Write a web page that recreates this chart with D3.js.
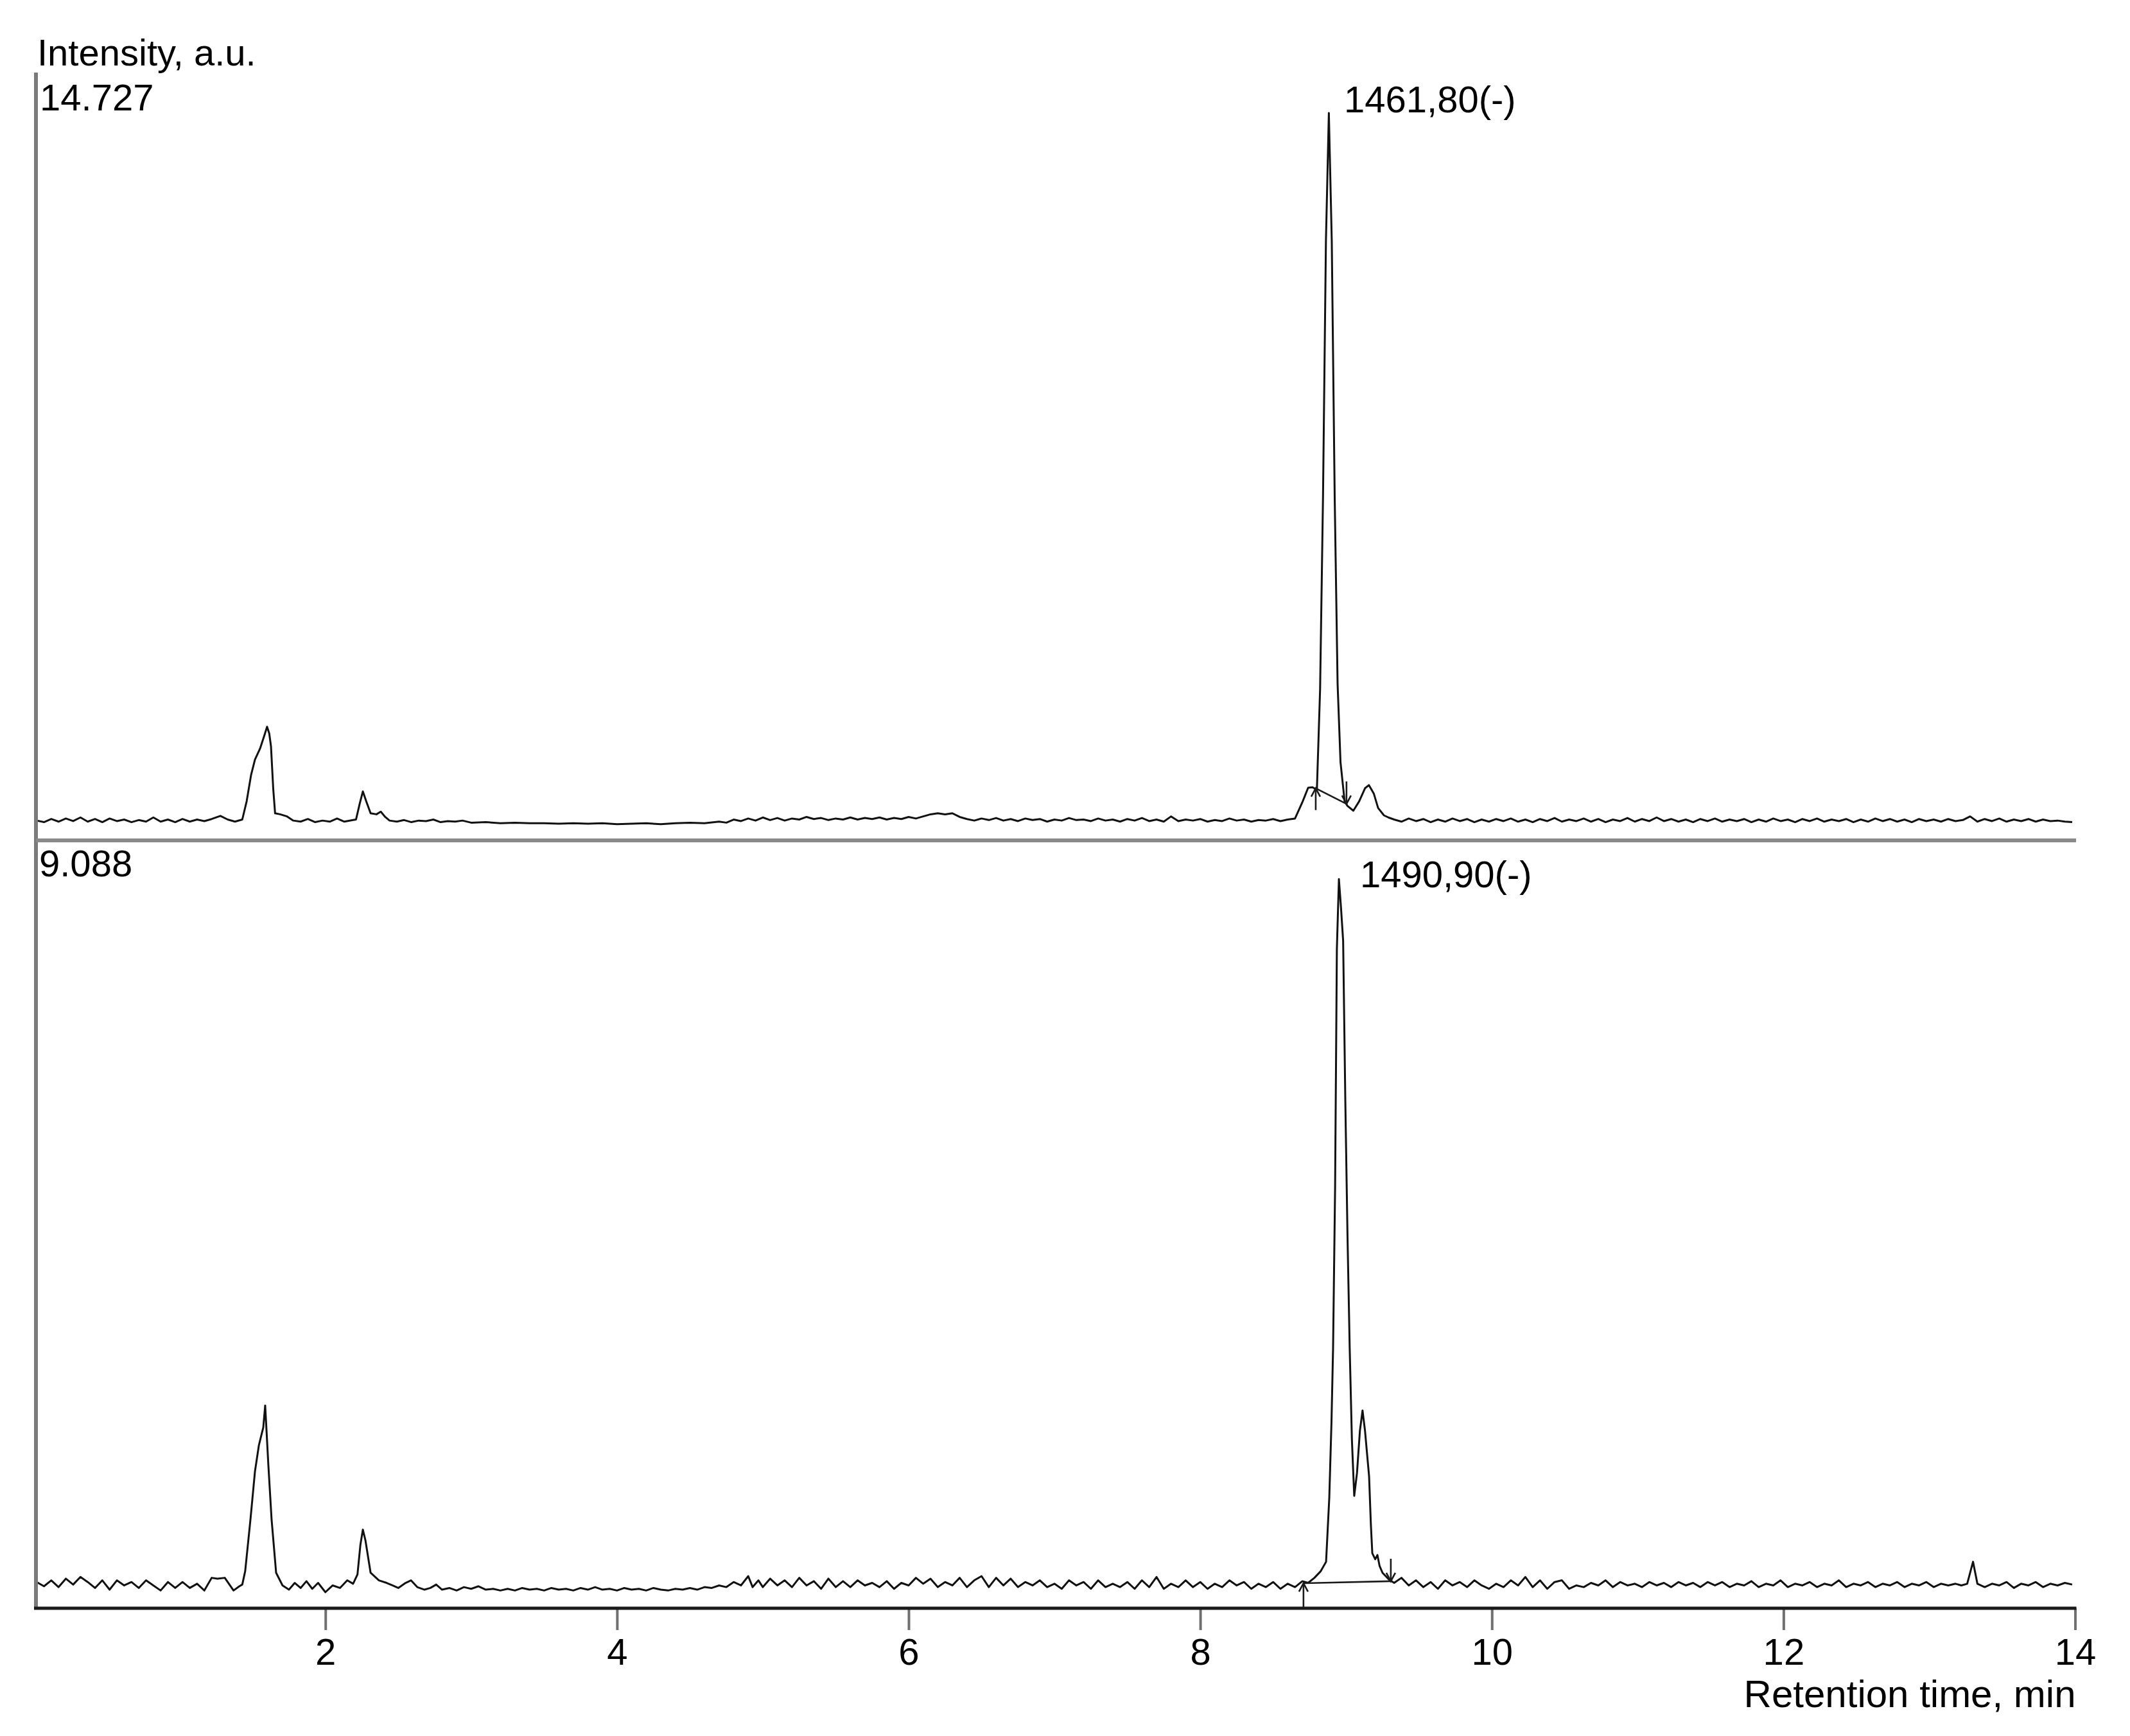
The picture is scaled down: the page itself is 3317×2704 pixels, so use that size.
<!DOCTYPE html>
<html>
<head>
<meta charset="utf-8">
<script src="https://cdn.jsdelivr.net/npm/d3@7"></script>
<style>
  html, body { margin: 0; padding: 0; background: #ffffff; }
  svg { display: block; }
  text { font-family: "Liberation Sans", Arial, Helvetica, sans-serif; fill: #000; }
</style>
</head>
<body>
<svg id="chart" width="3317" height="2704"></svg>
<script>
// ---------------- DATA ----------------
const xTickValues = [2, 4, 6, 8, 10, 12, 14];
const xDomain = [0, 14];
const xStart = 0.015;

const yLabel = "Intensity, a.u.";
const xLabel = "Retention time, min";

const topScaleMax = 14.727;
const bottomScaleMax = 9.088;
const topScaleLabel = "14.727";
const bottomScaleLabel = "9.088";

const topPeakLabel = { text: "1461,80(-)", t: 8.986, v: 13.96 };
const bottomPeakLabel = { text: "1490,90(-)", t: 9.096, v: 8.53 };

// integration baseline start / end markers [t, v]
const topIntegration = { start: [8.792, 1.00], end: [9.003, 0.70] };
const bottomIntegration = { start: [8.708, 0.296], end: [9.307, 0.32] };

// upper chromatogram [time, intensity]
const topTrace = [
  [0.02,0.38],[0.07,0.35],[0.12,0.41],[0.17,0.36],[0.22,0.42],[0.27,0.37],[0.32,0.44],[0.37,0.36],
  [0.42,0.41],[0.47,0.35],[0.52,0.42],[0.57,0.37],[0.62,0.40],[0.67,0.35],[0.72,0.39],[0.77,0.36],
  [0.82,0.44],[0.87,0.36],[0.92,0.40],[0.97,0.35],[1.02,0.41],[1.07,0.36],[1.12,0.40],[1.17,0.37],
  [1.22,0.41],[1.28,0.47],[1.33,0.40],[1.38,0.36],[1.43,0.40],[1.46,0.75],[1.49,1.25],[1.517,1.55],
  [1.553,1.77],[1.58,2.00],[1.60,2.18],[1.615,2.05],[1.627,1.80],[1.642,1.00],[1.655,0.52],[1.69,0.50],
  [1.737,0.46],[1.78,0.38],[1.83,0.36],[1.88,0.41],[1.93,0.35],[1.98,0.38],[2.03,0.36],[2.08,0.42],
  [2.13,0.36],[2.19,0.39],[2.21,0.40],[2.235,0.70],[2.257,0.94],[2.28,0.75],[2.31,0.52],[2.35,0.50],
  [2.38,0.55],[2.41,0.45],[2.44,0.38],[2.49,0.36],[2.54,0.39],[2.59,0.35],[2.64,0.38],[2.69,0.37],
  [2.74,0.40],[2.79,0.35],[2.84,0.37],[2.89,0.36],[2.94,0.38],[3.00,0.34],[3.10,0.35],[3.20,0.33],
  [3.30,0.34],[3.40,0.33],[3.50,0.33],[3.60,0.32],[3.70,0.33],[3.80,0.32],[3.90,0.33],[4.00,0.31],
  [4.10,0.32],[4.20,0.33],[4.30,0.31],[4.40,0.33],[4.50,0.34],[4.60,0.33],[4.70,0.36],[4.75,0.34],
  [4.80,0.40],[4.85,0.37],[4.90,0.42],[4.95,0.38],[5.00,0.44],[5.05,0.39],[5.10,0.43],[5.15,0.38],
  [5.20,0.42],[5.25,0.40],[5.30,0.45],[5.35,0.41],[5.40,0.43],[5.45,0.39],[5.50,0.42],[5.55,0.40],
  [5.60,0.44],[5.65,0.40],[5.70,0.43],[5.75,0.41],[5.80,0.44],[5.85,0.40],[5.90,0.43],[5.95,0.41],
  [6.00,0.45],[6.05,0.42],[6.10,0.46],[6.15,0.50],[6.20,0.52],[6.25,0.50],[6.30,0.52],[6.35,0.45],
  [6.40,0.41],[6.45,0.38],[6.50,0.42],[6.55,0.39],[6.60,0.43],[6.65,0.38],[6.70,0.41],[6.75,0.37],
  [6.80,0.42],[6.85,0.39],[6.90,0.41],[6.95,0.36],[7.00,0.40],[7.05,0.38],[7.10,0.43],[7.15,0.39],
  [7.20,0.40],[7.25,0.37],[7.30,0.42],[7.35,0.38],[7.40,0.40],[7.45,0.36],[7.50,0.41],[7.55,0.38],
  [7.60,0.43],[7.65,0.37],[7.70,0.40],[7.75,0.36],[7.80,0.46],[7.85,0.37],[7.90,0.40],[7.95,0.38],
  [8.00,0.41],[8.05,0.36],[8.10,0.39],[8.15,0.37],[8.20,0.42],[8.25,0.38],[8.30,0.40],[8.35,0.36],
  [8.40,0.39],[8.45,0.38],[8.50,0.41],[8.55,0.37],[8.60,0.40],[8.65,0.42],[8.70,0.73],[8.74,1.01],
  [8.77,1.02],[8.80,0.97],[8.822,2.90],[8.842,6.60],[8.862,11.50],[8.882,13.95],[8.902,11.50],[8.922,6.60],
  [8.942,3.00],[8.962,1.50],[8.99,0.75],[9.01,0.66],[9.05,0.57],[9.09,0.75],[9.13,1.00],[9.157,1.06],
  [9.19,0.90],[9.22,0.62],[9.26,0.48],[9.29,0.44],[9.33,0.40],[9.38,0.36],[9.43,0.42],[9.48,0.37],
  [9.53,0.41],[9.58,0.35],[9.63,0.40],[9.68,0.36],[9.73,0.42],[9.78,0.37],[9.83,0.41],[9.88,0.35],
  [9.93,0.40],[9.98,0.36],[10.03,0.41],[10.08,0.37],[10.13,0.42],[10.18,0.36],[10.23,0.40],[10.28,0.35],
  [10.33,0.41],[10.38,0.37],[10.43,0.43],[10.48,0.36],[10.53,0.40],[10.58,0.37],[10.63,0.42],[10.68,0.36],
  [10.73,0.41],[10.78,0.35],[10.83,0.40],[10.88,0.37],[10.93,0.43],[10.98,0.36],[11.03,0.41],[11.08,0.37],
  [11.13,0.44],[11.18,0.37],[11.23,0.41],[11.28,0.36],[11.33,0.40],[11.38,0.35],[11.43,0.41],[11.48,0.37],
  [11.53,0.42],[11.58,0.36],[11.63,0.40],[11.68,0.37],[11.73,0.41],[11.78,0.35],[11.83,0.40],[11.88,0.36],
  [11.93,0.42],[11.98,0.37],[12.03,0.40],[12.08,0.35],[12.13,0.41],[12.18,0.37],[12.23,0.42],[12.28,0.36],
  [12.33,0.40],[12.38,0.37],[12.43,0.41],[12.48,0.35],[12.53,0.40],[12.58,0.36],[12.63,0.42],[12.68,0.37],
  [12.73,0.41],[12.78,0.36],[12.83,0.40],[12.88,0.35],[12.93,0.41],[12.98,0.37],[13.03,0.40],[13.08,0.36],
  [13.13,0.41],[13.18,0.37],[13.23,0.39],[13.28,0.46],[13.33,0.36],[13.38,0.41],[13.43,0.37],[13.48,0.42],
  [13.53,0.36],[13.58,0.40],[13.63,0.37],[13.68,0.41],[13.73,0.36],[13.78,0.40],[13.83,0.37],[13.88,0.38],
  [13.93,0.36],[13.98,0.35]
];

// lower chromatogram [time, intensity]
const bottomTrace = [
  [0.02,0.31],[0.07,0.26],[0.12,0.33],[0.17,0.25],[0.22,0.35],[0.27,0.28],[0.32,0.37],[0.37,0.31],
  [0.42,0.24],[0.47,0.33],[0.52,0.22],[0.57,0.33],[0.62,0.27],[0.67,0.31],[0.72,0.24],[0.77,0.33],
  [0.82,0.27],[0.87,0.21],[0.92,0.31],[0.97,0.24],[1.02,0.31],[1.07,0.24],[1.12,0.29],[1.17,0.21],
  [1.22,0.36],[1.26,0.35],[1.31,0.36],[1.37,0.21],[1.41,0.26],[1.43,0.28],[1.45,0.44],[1.486,1.05],
  [1.517,1.62],[1.544,1.93],[1.574,2.14],[1.587,2.40],[1.609,1.69],[1.631,1.05],[1.662,0.42],[1.706,0.27],
  [1.75,0.22],[1.79,0.30],[1.83,0.24],[1.87,0.32],[1.91,0.23],[1.95,0.30],[2.00,0.19],[2.05,0.27],
  [2.10,0.24],[2.15,0.33],[2.19,0.29],[2.22,0.40],[2.24,0.75],[2.257,0.93],[2.275,0.80],[2.31,0.42],
  [2.367,0.33],[2.42,0.30],[2.46,0.27],[2.50,0.24],[2.55,0.30],[2.587,0.33],[2.63,0.25],[2.68,0.22],
  [2.72,0.24],[2.76,0.28],[2.80,0.22],[2.85,0.24],[2.90,0.21],[2.95,0.25],[3.00,0.23],[3.05,0.26],
  [3.10,0.22],[3.15,0.23],[3.20,0.21],[3.25,0.23],[3.30,0.21],[3.35,0.24],[3.40,0.22],[3.45,0.23],
  [3.50,0.21],[3.55,0.24],[3.60,0.22],[3.65,0.23],[3.70,0.21],[3.75,0.24],[3.80,0.22],[3.85,0.25],
  [3.90,0.22],[3.95,0.23],[4.00,0.21],[4.05,0.24],[4.10,0.22],[4.15,0.23],[4.20,0.21],[4.25,0.24],
  [4.30,0.22],[4.35,0.21],[4.40,0.23],[4.45,0.22],[4.50,0.24],[4.55,0.22],[4.60,0.25],[4.65,0.24],
  [4.70,0.27],[4.75,0.25],[4.80,0.31],[4.85,0.27],[4.90,0.38],[4.93,0.25],[4.97,0.33],[5.00,0.25],
  [5.05,0.35],[5.10,0.27],[5.15,0.33],[5.20,0.25],[5.25,0.36],[5.30,0.27],[5.35,0.32],[5.40,0.23],
  [5.45,0.35],[5.50,0.25],[5.55,0.32],[5.60,0.25],[5.65,0.33],[5.70,0.27],[5.75,0.30],[5.80,0.25],
  [5.85,0.32],[5.90,0.23],[5.95,0.30],[6.00,0.27],[6.05,0.36],[6.10,0.29],[6.15,0.35],[6.20,0.25],
  [6.25,0.31],[6.30,0.27],[6.35,0.36],[6.40,0.25],[6.45,0.33],[6.50,0.38],[6.55,0.25],[6.60,0.36],
  [6.65,0.27],[6.70,0.35],[6.75,0.25],[6.80,0.31],[6.85,0.27],[6.90,0.33],[6.95,0.25],[7.00,0.29],
  [7.05,0.23],[7.10,0.33],[7.15,0.27],[7.20,0.31],[7.25,0.23],[7.30,0.33],[7.35,0.25],[7.40,0.29],
  [7.45,0.25],[7.50,0.31],[7.55,0.23],[7.60,0.33],[7.65,0.25],[7.70,0.37],[7.75,0.23],[7.80,0.29],
  [7.85,0.25],[7.90,0.33],[7.95,0.25],[8.00,0.31],[8.05,0.23],[8.10,0.29],[8.15,0.25],[8.20,0.33],
  [8.25,0.27],[8.30,0.31],[8.35,0.23],[8.40,0.29],[8.45,0.25],[8.50,0.31],[8.55,0.23],[8.60,0.29],
  [8.65,0.25],[8.70,0.32],[8.74,0.30],[8.783,0.36],[8.827,0.44],[8.863,0.55],[8.885,1.31],[8.90,2.20],
  [8.911,3.08],[8.925,5.00],[8.937,7.80],[8.951,8.63],[8.965,8.30],[8.98,7.90],[8.995,6.00],[9.01,4.40],
  [9.025,3.08],[9.04,2.00],[9.056,1.33],[9.075,1.60],[9.095,2.10],[9.113,2.34],[9.13,2.10],[9.158,1.56],
  [9.17,1.00],[9.18,0.65],[9.20,0.58],[9.215,0.63],[9.23,0.50],[9.25,0.42],[9.294,0.34],[9.33,0.30],
  [9.38,0.36],[9.43,0.27],[9.48,0.33],[9.53,0.25],[9.58,0.31],[9.63,0.23],[9.68,0.33],[9.73,0.27],
  [9.78,0.31],[9.83,0.25],[9.88,0.33],[9.93,0.27],[9.98,0.23],[10.03,0.29],[10.08,0.25],[10.13,0.33],
  [10.18,0.27],[10.23,0.37],[10.28,0.25],[10.33,0.33],[10.38,0.23],[10.43,0.31],[10.48,0.33],[10.53,0.23],
  [10.58,0.27],[10.63,0.25],[10.68,0.30],[10.73,0.27],[10.78,0.33],[10.83,0.25],[10.88,0.31],[10.93,0.27],
  [10.98,0.29],[11.03,0.25],[11.08,0.31],[11.13,0.27],[11.18,0.30],[11.23,0.25],[11.28,0.31],[11.33,0.27],
  [11.38,0.30],[11.43,0.25],[11.48,0.31],[11.53,0.27],[11.58,0.31],[11.63,0.25],[11.68,0.29],[11.73,0.27],
  [11.78,0.32],[11.83,0.25],[11.88,0.29],[11.93,0.27],[11.98,0.33],[12.03,0.25],[12.08,0.29],[12.13,0.27],
  [12.18,0.31],[12.23,0.25],[12.28,0.29],[12.33,0.27],[12.38,0.33],[12.43,0.25],[12.48,0.29],[12.53,0.27],
  [12.58,0.31],[12.63,0.25],[12.68,0.29],[12.73,0.27],[12.78,0.31],[12.83,0.25],[12.88,0.29],[12.93,0.27],
  [12.98,0.31],[13.03,0.25],[13.08,0.29],[13.13,0.27],[13.18,0.29],[13.22,0.27],[13.26,0.29],[13.30,0.55],
  [13.33,0.29],[13.38,0.25],[13.43,0.29],[13.48,0.27],[13.53,0.31],[13.58,0.24],[13.63,0.29],[13.68,0.27],
  [13.73,0.31],[13.78,0.25],[13.83,0.29],[13.88,0.27],[13.93,0.30],[13.98,0.28]
];

// ---------------- LAYOUT ----------------
const FONT = 58;
const plotLeftPx = 52.6, plotRightPx = 3231.5;
const topPanel = { top: 113, bottom: 1309 };
const bottomPanel = { top: 1309, bottom: 2505 };

const svg = d3.select("#chart");
svg.append("rect").attr("width", 3317).attr("height", 2704).attr("fill", "#ffffff");

const x = d3.scaleLinear().domain(xDomain).range([plotLeftPx, plotRightPx]);
const yTop = d3.scaleLinear().domain([0, topScaleMax]).range([topPanel.bottom, topPanel.top]);
const yBot = d3.scaleLinear().domain([0, bottomScaleMax]).range([bottomPanel.bottom, bottomPanel.top]);

const x0 = x(xStart), x1 = x(xDomain[1]);

// traces
const lineTop = d3.line().x(d => x(d[0])).y(d => yTop(d[1]));
const lineBot = d3.line().x(d => x(d[0])).y(d => yBot(d[1]));

svg.append("path").datum(topTrace).attr("d", lineTop)
  .attr("fill", "none").attr("stroke", "#111").attr("stroke-width", 3).attr("stroke-linejoin", "round");
svg.append("path").datum(bottomTrace).attr("d", lineBot)
  .attr("fill", "none").attr("stroke", "#111").attr("stroke-width", 3).attr("stroke-linejoin", "round");

// integration baselines and markers
function drawIntegration(integ, yScale, upTail, downTail) {
  const sx = x(integ.start[0]), sy = yScale(integ.start[1]);
  const ex = x(integ.end[0]), ey = yScale(integ.end[1]);
  const g = svg.append("g").attr("stroke", "#1a1a1a").attr("stroke-width", 2.6).attr("fill", "none");
  g.append("line").attr("x1", sx).attr("y1", sy).attr("x2", ex).attr("y2", ey);
  // start marker: up arrow, tail below
  g.append("line").attr("x1", sx).attr("y1", sy).attr("x2", sx).attr("y2", sy + upTail);
  g.append("path").attr("d", `M${sx - 7},${sy + 13}L${sx},${sy}L${sx + 7},${sy + 13}`);
  // end marker: down arrow, tail above
  g.append("line").attr("x1", ex).attr("y1", ey).attr("x2", ex).attr("y2", ey - downTail);
  g.append("path").attr("d", `M${ex - 7},${ey - 13}L${ex},${ey}L${ex + 7},${ey - 13}`);
}
drawIntegration(topIntegration, yTop, 34, 35);
drawIntegration(bottomIntegration, yBot, bottomPanel.bottom - yBot(bottomIntegration.start[1]), 35);

// left axis
svg.append("line").attr("x1", x0).attr("x2", x0)
  .attr("y1", topPanel.top).attr("y2", bottomPanel.bottom)
  .attr("stroke", "#7a7a7a").attr("stroke-width", 6);

// separator between panels
svg.append("line").attr("x1", x0).attr("x2", x1 + 1.5)
  .attr("y1", topPanel.bottom).attr("y2", topPanel.bottom)
  .attr("stroke", "#8a8a8a").attr("stroke-width", 6);

// bottom axis
const xAxis = d3.axisBottom(x).tickValues(xTickValues).tickSize(34).tickPadding(13)
  .tickFormat(d3.format("d"));
const gx = svg.append("g").attr("transform", `translate(0,${bottomPanel.bottom})`).call(xAxis);
gx.select(".domain").remove();
gx.selectAll(".tick line").attr("stroke", "#707070").attr("stroke-width", 4);
gx.selectAll(".tick text").attr("font-size", FONT).attr("fill", "#000")
  .style("font-family", '"Liberation Sans", Arial, sans-serif');
svg.append("line").attr("x1", x0 - 3).attr("x2", x1 + 2)
  .attr("y1", bottomPanel.bottom).attr("y2", bottomPanel.bottom)
  .attr("stroke", "#1a1a1a").attr("stroke-width", 5);

// texts
svg.append("text").attr("x", 58).attr("y", 102).attr("font-size", FONT).text(yLabel);
svg.append("text").attr("x", 62).attr("y", 172).attr("font-size", FONT).text(topScaleLabel);
svg.append("text").attr("x", 61).attr("y", 1365).attr("font-size", FONT).text(bottomScaleLabel);
svg.append("text").attr("x", x(topPeakLabel.t)).attr("y", yTop(topPeakLabel.v))
  .attr("font-size", FONT).text(topPeakLabel.text);
svg.append("text").attr("x", x(bottomPeakLabel.t)).attr("y", yBot(bottomPeakLabel.v))
  .attr("font-size", FONT).text(bottomPeakLabel.text);
svg.append("text").attr("x", x1 + 1).attr("y", 2659).attr("text-anchor", "end")
  .attr("font-size", 60).text(xLabel);
</script>
</body>
</html>
